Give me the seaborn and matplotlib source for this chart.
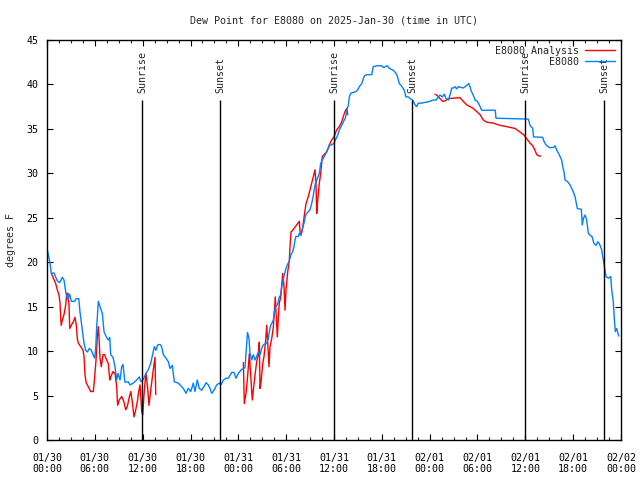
import pandas as pd
import matplotlib
matplotlib.use("Agg")
import matplotlib.pyplot as plt
import seaborn as sns

# Dew point readings (hours after 2025-01-30 00:00 UTC, degrees F)
obs_hours = [0.04, 0.38, 0.54, 0.88, 1.29, 1.59, 1.92, 2.13, 2.38, 2.63, 2.85, 3.05, 3.47, 3.64, 3.98,
             4.14, 4.43, 4.64, 4.85, 5.06, 5.31, 5.56, 5.77, 5.98, 6.11, 6.23, 6.44, 6.65, 6.94, 7.15,
             7.44, 7.69, 7.87, 7.99, 8.28, 8.53, 8.74, 8.91, 9.16, 9.37, 9.53, 9.78, 10.19, 10.41, 10.82,
             11.25, 11.58, 11.78, 12.07, 12.41, 12.70, 13.00, 13.20, 13.46, 13.67, 13.88, 14.17, 14.38,
             14.59, 14.93, 15.22, 15.43, 15.72, 15.97, 16.47, 16.90, 17.10, 17.44, 17.72, 18.03, 18.35,
             18.56, 18.85, 19.10, 19.41, 19.69, 19.95, 20.23, 20.45, 20.66, 20.95, 21.29, 21.61, 21.83,
             22.12, 22.45, 22.74, 23.17, 23.46, 23.71, 24.00, 24.42, 24.71, 24.84, 24.96, 25.15, 25.34,
             25.46, 25.68, 25.88, 26.09, 26.30, 26.51, 26.72, 26.93, 27.13, 27.56, 27.76, 27.89, 28.06,
             28.19, 28.39, 28.51, 28.69, 28.89, 29.02, 29.14, 29.32, 29.44, 29.57, 29.77, 29.98, 30.14,
             30.39, 30.57, 30.82, 30.98, 31.11, 31.23, 31.52, 31.65, 31.82, 32.03, 32.24, 32.45, 32.78,
             32.99, 33.20, 33.40, 33.62, 33.91, 34.16, 34.33, 34.53, 34.79, 35.16, 35.50, 35.75, 36.00,
             36.25, 36.47, 36.67, 36.97, 37.17, 37.42, 37.59, 37.80, 37.92, 38.10, 38.42, 38.76, 38.98,
             39.18, 39.48, 39.80, 40.10, 40.73, 40.93, 41.36, 41.99, 42.19, 42.69, 42.94, 43.44, 43.78,
             43.94, 44.19, 44.49, 44.78, 45.03, 45.32, 45.62, 45.87, 46.16, 46.37, 46.57, 47.00, 48.04,
             48.46, 48.80, 49.09, 49.30, 49.59, 49.84, 50.05, 50.34, 50.55, 50.77, 50.97, 51.18, 51.39,
             51.59, 52.22, 52.65, 52.90, 53.06, 53.19, 53.47, 53.69, 53.98, 54.23, 54.53, 56.23, 56.32,
             60.37, 60.59, 60.93, 61.03, 62.18, 62.34, 62.59, 63.01, 63.51, 63.72, 63.94, 64.14, 64.35,
             64.56, 64.69, 64.85, 64.98, 65.27, 65.61, 65.82, 66.02, 66.23, 66.36, 66.52, 67.02, 67.15,
             67.27, 67.49, 67.70, 67.90, 68.11, 68.36, 68.61, 68.87, 69.08, 69.28, 69.58, 69.78, 69.99,
             70.12, 70.41, 70.71, 70.83, 71.03, 71.16, 71.29, 71.46, 71.71]
obs_dewpt = [21.4, 19.9, 18.75, 18.8, 17.9, 17.7, 18.3, 18.0, 16.5, 15.8, 16.4, 15.6, 15.6, 15.9, 15.9,
             14.4, 12.4, 10.9, 10.1, 9.9, 10.3, 10.1, 9.6, 9.2, 10.3, 12.7, 15.6, 15.0, 14.25, 12.2,
             11.6, 11.25, 11.55, 9.6, 9.3, 8.25, 6.75, 7.5, 6.75, 8.25, 8.5, 6.5, 6.55, 6.2, 6.4,
             6.75, 7.1, 6.55, 6.8, 7.5, 7.9, 8.6, 9.4, 10.5, 10.1, 10.7, 10.75, 10.5,
             9.6, 9.2, 8.8, 8.05, 8.4, 6.55, 6.4, 6.0, 5.8, 5.25, 5.8, 5.45, 6.4,
             5.45, 6.75, 5.8, 5.6, 6.0, 6.45, 6.2, 5.8, 5.25, 5.6, 6.2, 6.4, 6.2,
             6.75, 6.95, 6.95, 7.6, 7.6, 6.95, 7.5, 7.95, 8.05, 8.2, 9.75, 12.1, 11.4,
             9.75, 9.0, 9.6, 9.0, 9.4, 9.9, 9.6, 10.3, 10.7, 10.9, 11.4, 12.2, 12.9,
             13.1, 13.5, 14.4, 15.0, 15.2, 15.6, 16.1, 16.3, 17.25, 17.8, 18.6, 19.3, 19.7,
             20.1, 20.8, 21.2, 21.75, 22.5, 22.9, 22.9, 23.25, 23.05, 23.8, 24.4, 25.3, 25.7,
             25.9, 26.6, 27.5, 28.7, 29.4, 30.0, 31.1, 31.5, 31.9, 32.6, 33.2, 33.2, 33.4,
             33.9, 34.3, 34.9, 35.4, 35.8, 36.2, 37.0, 37.7, 38.6, 39.0, 39.1, 39.2, 39.4,
             39.75, 40.1, 40.95, 41.1, 41.1, 42.0, 42.1, 42.1, 41.9, 42.1, 41.8, 41.6, 41.25,
             40.95, 40.1, 39.8, 39.4, 38.6, 38.6, 38.35, 38.25, 37.7, 37.5, 37.9, 37.9, 38.1,
             38.25, 38.25, 38.6, 38.8, 38.6, 38.9, 38.4, 38.25, 38.8, 39.6, 39.6, 39.75, 39.5,
             39.75, 39.6, 39.9, 40.1, 39.75, 39.3, 38.8, 38.25, 38.1, 37.7, 37.1, 37.1, 36.2,
             36.1, 35.4, 35.05, 34.1, 34.05, 33.6, 33.2, 32.9, 32.9, 33.1, 32.6, 32.3, 31.9,
             31.5, 30.75, 30.2, 29.25, 29.1, 28.7, 28.3, 27.9, 27.4, 26.8, 26.05, 25.95, 24.2,
             24.9, 25.3, 24.75, 23.25, 23.05, 22.9, 22.1, 21.9, 22.3, 22.1, 21.4, 20.25, 19.1,
             18.4, 18.2, 18.4, 16.9, 15.6, 13.7, 12.2, 12.55, 11.7]

# Analysis series, three separate runs
ana1_hours = [0.54, 1.09, 1.29, 1.51, 1.63, 1.72, 1.79, 1.92, 2.13, 2.35, 2.47, 2.63, 2.76, 2.85, 3.05,
              3.30, 3.51, 3.68, 3.80, 3.92, 4.23, 4.52, 4.64, 4.77, 4.93, 5.18, 5.48, 5.81, 5.98, 6.15,
              6.31, 6.44, 6.52, 6.65, 6.81, 7.02, 7.23, 7.48, 7.69, 7.87, 7.99, 8.28, 8.53, 8.74, 8.86,
              9.06, 9.37, 9.65, 9.87, 10.07, 10.29, 10.50, 10.70, 10.91, 11.13, 11.33, 11.50, 11.67,
              11.88, 12.00, 12.17, 12.29, 12.42, 12.63, 12.79, 13.01, 13.17, 13.33, 13.55, 13.64]
ana1_dewpt = [18.75, 17.6, 16.9, 16.3, 15.4, 13.7, 12.9, 13.5, 14.1, 15.2, 16.5, 16.5, 15.2, 12.55, 12.9,
              13.3, 13.8, 12.9, 11.4, 10.9, 10.5, 10.1, 9.4, 7.3, 6.4, 6.0, 5.45, 5.45, 7.1, 9.0,
              11.6, 12.75, 11.6, 9.2, 8.25, 9.6, 9.6, 9.0, 8.6, 6.75, 7.1, 7.7, 7.5, 6.0, 3.9,
              4.5, 4.9, 4.3, 3.4, 3.75, 4.7, 5.45, 4.3, 2.6, 3.4, 4.3, 5.45, 6.2,
              3.2, 2.8, 5.1, 6.4, 7.5, 5.8, 3.9, 5.6, 6.75, 7.9, 9.3, 5.1]
ana2_hours = [24.63, 24.75, 24.96, 25.15, 25.38, 25.75, 25.88, 26.09, 26.30, 26.51, 26.63, 26.72, 26.85,
              27.06, 27.22, 27.43, 27.56, 27.85, 27.97, 28.19, 28.39, 28.51, 28.63, 28.89, 29.02, 29.14,
              29.32, 29.44, 29.57, 29.73, 29.86, 29.98, 30.19, 30.39, 30.48, 30.61, 30.82, 31.32, 31.65,
              31.74, 31.86, 32.03, 32.15, 32.28, 32.49, 32.78, 33.40, 33.62, 33.74, 33.83, 33.96, 34.16,
              34.33, 34.53, 35.09, 35.41, 35.71, 36.00, 36.34, 36.67, 36.97, 37.17, 37.38, 37.59, 37.72]
ana2_dewpt = [8.7, 4.1, 5.25, 7.0, 9.7, 4.5, 5.6, 7.3, 8.8, 9.6, 11.0, 5.8, 6.55,
              8.6, 9.4, 11.25, 12.9, 8.25, 10.5, 11.4, 12.75, 14.25, 16.1, 11.6, 13.9, 15.4,
              16.1, 17.4, 18.75, 17.25, 14.6, 16.9, 18.9, 20.1, 21.75, 23.4, 23.6, 24.2, 24.6,
              23.4, 23.05, 23.6, 24.4, 25.3, 26.6, 27.4, 29.6, 30.4, 28.9, 25.5, 27.0, 28.9,
              30.0, 31.9, 32.4, 33.2, 33.75, 34.1, 34.9, 35.25, 35.8, 36.4, 36.95, 37.3, 36.6]
ana3_hours = [48.67, 48.96, 49.30, 49.64, 49.92, 50.34, 50.89, 51.47, 51.81, 52.22, 52.65, 53.06, 53.47,
              53.90, 54.32, 54.73, 55.16, 55.98, 56.82, 57.67, 58.71, 59.25, 59.84, 60.17, 60.59, 60.93,
              61.21, 61.43, 61.75, 61.93]
ana3_dewpt = [38.9, 38.75, 38.4, 38.1, 38.15, 38.4, 38.45, 38.5, 38.5, 38.1, 37.7, 37.5, 37.3,
              36.95, 36.6, 36.0, 35.75, 35.65, 35.4, 35.25, 35.05, 34.7, 34.3, 33.9, 33.4, 33.1,
              32.6, 32.1, 31.95, 31.95]

sun_hours = [11.92, 21.70, 36.0, 45.78, 59.96, 69.87]
sun_labels = ["Sunrise", "Sunset", "Sunrise", "Sunset", "Sunrise", "Sunset"]

tick_hours = list(range(0, 73, 6))
tick_labels = ["01/30\n00:00", "01/30\n06:00", "01/30\n12:00", "01/30\n18:00",
               "01/31\n00:00", "01/31\n06:00", "01/31\n12:00", "01/31\n18:00",
               "02/01\n00:00", "02/01\n06:00", "02/01\n12:00", "02/01\n18:00",
               "02/02\n00:00"]

frames = [pd.DataFrame({"hour": ana1_hours, "dewpt": ana1_dewpt, "series": "E8080 Analysis", "seg": 1}),
          pd.DataFrame({"hour": ana2_hours, "dewpt": ana2_dewpt, "series": "E8080 Analysis", "seg": 2}),
          pd.DataFrame({"hour": ana3_hours, "dewpt": ana3_dewpt, "series": "E8080 Analysis", "seg": 3}),
          pd.DataFrame({"hour": obs_hours, "dewpt": obs_dewpt, "series": "E8080", "seg": 4})]
df = pd.concat(frames, ignore_index=True)

sns.set_theme(style="ticks")
plt.rcParams["font.family"] = ["DejaVu Sans Mono"]
plt.rcParams["font.size"] = 7.2

fig = plt.figure(figsize=(6.4, 4.8), dpi=100)
ax = fig.add_axes([47 / 640, 40 / 480, 574 / 640, 400 / 480])

sns.lineplot(data=df, x="hour", y="dewpt", hue="series", units="seg", estimator=None, sort=False,
             palette={"E8080 Analysis": "#ff0000", "E8080": "#0080ff"}, linewidth=1.0, ax=ax)

# sunrise / sunset markers
for h, lab in zip(sun_hours, sun_labels):
    ax.vlines(h, 0, 38.3, color="black", linewidth=1.0)
    ax.text(h, 39.0, lab, rotation=90, ha="center", va="bottom", fontsize=7.2)

ax.set_xlim(0, 72)
ax.set_ylim(0, 45)
ax.set_xticks(tick_hours)
ax.set_xticklabels(tick_labels)
ax.set_xticks([h + 1.5 * k for h in tick_hours[:-1] for k in (1, 2, 3)], minor=True)
ax.set_yticks(range(0, 46, 5))
ax.tick_params(axis="both", which="major", direction="in", length=4, width=0.8,
               top=True, right=True, labelsize=7.2, pad=6, colors="black")
ax.tick_params(axis="x", which="major", pad=9)
ax.tick_params(axis="both", which="minor", direction="in", length=2, width=0.8, top=True, right=True)
for s in ax.spines.values():
    s.set_color("black")
    s.set_linewidth(1.0)

ax.set_xlabel("")
ax.set_ylabel("degrees F", fontsize=7.2, labelpad=8)
ax.set_title("Dew Point for E8080 on 2025-Jan-30 (time in UTC)", fontsize=7.2, pad=12)

handles, labels = ax.get_legend_handles_labels()
ax.legend(handles, labels, loc="upper right", frameon=False, markerfirst=False,
          fontsize=7.2, handlelength=3.0, handletextpad=0.6, labelspacing=0.1,
          borderaxespad=0.2)

fig.savefig("out.png", dpi=100)
